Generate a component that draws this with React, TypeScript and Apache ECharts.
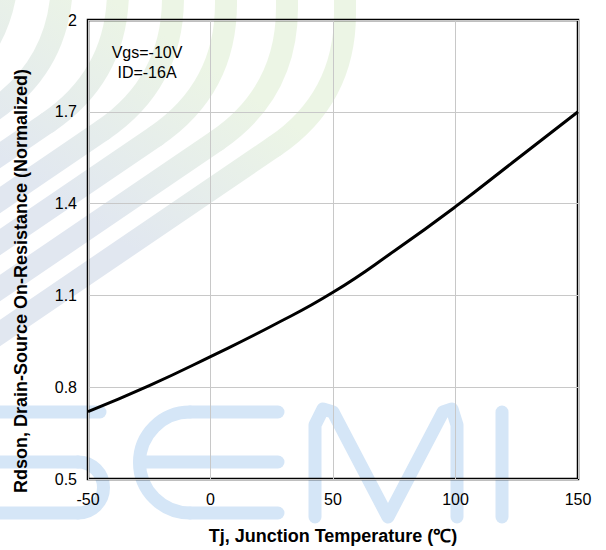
import React, { useEffect, useRef } from "react";
import * as echarts from "echarts";

const temps = [-50, -25, 0, 25, 50, 75, 100, 125, 150];
const rdson = [0.72, 0.805, 0.9, 1.0, 1.11, 1.245, 1.39, 1.545, 1.7];
const xTicks = { min: -50, max: 150, interval: 50 };
const yTicks = { min: 0.5, max: 2, interval: 0.3 };
const xTitle = "Tj, Junction Temperature (℃)";
const yTitle = "Rdson, Drain-Source On-Resistance (Normalized)";
const noteLines = ["Vgs=-10V", "ID=-16A"];

const FONT = "'Liberation Sans', Arial, sans-serif";
const WM_BLUE = "#d5e6f7";

function bandElements(): any[] {
  // decorative watermark bands (upper left)
  const bands = [
    [53, 8],
    [106, 62],
    [155, 118],
    [200, 173],
    [242, 226],
    [288, 287],
    [333, 345],
  ];
  const grad = new echarts.graphic.LinearGradient(
    90, 220, 200, 60,
    [
      { offset: 0, color: "#e1e7f0" },
      { offset: 1, color: "#ecf5e5" },
    ],
    true
  );
  const els: any[] = [];
  const s = 0.68;
  const ux = -0.827, uy = 0.562;
  const d = 85;
  bands.forEach(([yL, xT]) => {
    const cy = yL - s * xT;
    const A = [xT + ux * d, cy + uy * d];
    const B = [xT, cy - d];
    const style = { stroke: grad, lineWidth: 22, lineCap: "round", fill: null };
    els.push({ type: "line", silent: true, z: -10, shape: { x1: -30, y1: yL + s * 30, x2: A[0], y2: A[1] }, style });
    els.push({ type: "bezierCurve", silent: true, z: -10, shape: { x1: A[0], y1: A[1], cpx1: xT, cpy1: cy, x2: B[0], y2: B[1] }, style });
    els.push({ type: "line", silent: true, z: -10, shape: { x1: xT, y1: B[1], x2: xT, y2: -40 }, style });
  });
  return els;
}

function semiElements(): any[] {
  const st = { stroke: WM_BLUE, lineWidth: 13, lineCap: "round", lineJoin: "round", fill: null };
  const els: any[] = [];
  const add = (e: any) => els.push({ silent: true, z: -9, style: st, ...e });
  // S
  add({ type: "line", shape: { x1: -20, y1: 412, x2: 100, y2: 412 } });
  add({ type: "line", shape: { x1: -20, y1: 462, x2: 78, y2: 462 } });
  add({ type: "arc", shape: { cx: 78, cy: 487.5, r: 25.5, startAngle: -Math.PI / 2, endAngle: Math.PI / 2, clockwise: true } });
  add({ type: "line", shape: { x1: 78, y1: 513, x2: -20, y2: 513 } });
  // E
  add({ type: "line", shape: { x1: 278, y1: 412, x2: 190, y2: 412 } });
  add({ type: "arc", shape: { cx: 190, cy: 462.5, r: 50.5, startAngle: Math.PI / 2, endAngle: (3 * Math.PI) / 2, clockwise: true } });
  add({ type: "line", shape: { x1: 190, y1: 513, x2: 278, y2: 513 } });
  add({ type: "line", shape: { x1: 140, y1: 462, x2: 278, y2: 462 } });
  // M
  add({ type: "polyline", shape: { points: [[315, 517], [315, 425], [323, 409], [333, 412], [388, 517], [443, 412], [452, 409], [457, 425], [457, 517]] } });
  // I
  add({ type: "line", shape: { x1: 502, y1: 412, x2: 502, y2: 517 } });
  return els;
}

export default function App() {
  const ref = useRef<HTMLDivElement>(null);
  useEffect(() => {
    if (!ref.current) return;
    const chart = echarts.init(ref.current, undefined, { renderer: "svg" });
    const data = temps.map((t, i) => [t, rdson[i]]);
    chart.setOption({
      animation: false,
      backgroundColor: "#ffffff",
      grid: {
        left: 88,
        right: 28,
        top: 20,
        bottom: 70,
        show: true,
        borderColor: "#000",
        borderWidth: 2.5,
        backgroundColor: "transparent",
      },
      xAxis: {
        type: "value",
        min: xTicks.min,
        max: xTicks.max,
        interval: xTicks.interval,
        axisLine: { show: false },
        axisTick: { show: false },
        axisLabel: { color: "#000", fontFamily: FONT, fontSize: 16, margin: 12 },
        splitLine: { show: true, lineStyle: { color: "#c8c8c8", width: 1 } },
        name: xTitle,
        nameLocation: "middle",
        nameGap: 48,
        nameTextStyle: { color: "#000", fontFamily: FONT, fontSize: 18, fontWeight: "bold" },
      },
      yAxis: {
        type: "value",
        min: yTicks.min,
        max: yTicks.max,
        interval: yTicks.interval,
        axisLine: { show: false },
        axisTick: { show: false },
        axisLabel: {
          color: "#000",
          fontFamily: FONT,
          fontSize: 16,
          margin: 11,
          formatter: (v: number) => String(Math.round(v * 10) / 10),
        },
        splitLine: { show: true, lineStyle: { color: "#c8c8c8", width: 1 } },
      },
      graphic: [
        ...bandElements(),
        ...semiElements(),
        {
          type: "text",
          x: 21,
          y: 281,
          rotation: Math.PI / 2,
          z: 10,
          style: {
            text: yTitle,
            font: `bold 18px ${FONT}`,
            fill: "#000",
            align: "center",
            verticalAlign: "middle",
          },
        },
        {
          type: "text",
          x: 147,
          y: 62,
          z: 10,
          style: {
            text: noteLines.join("\n"),
            font: `16px ${FONT}`,
            lineHeight: 20,
            fill: "#000",
            align: "center",
            verticalAlign: "middle",
          },
        },
      ],
      series: [
        {
          type: "line",
          data,
          smooth: 0.5,
          symbol: "none",
          lineStyle: { color: "#000", width: 3 },
          z: 5,
        },
      ],
    });
    return () => chart.dispose();
  }, []);
  return <div ref={ref} style={{ width: 606, height: 550, position: "absolute", left: 0, top: 0 }} />;
}
